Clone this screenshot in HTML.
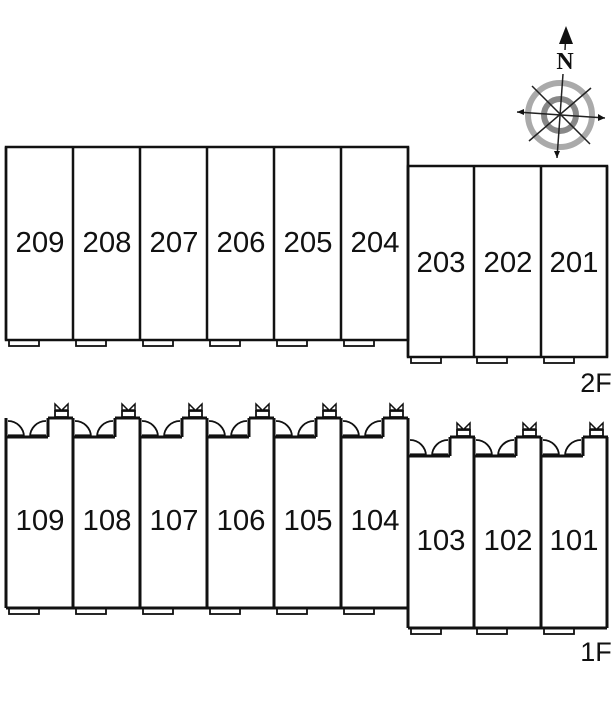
<!DOCTYPE html>
<html><head><meta charset="utf-8"><style>
body{margin:0;background:#fff;width:611px;height:720px;overflow:hidden}
svg{display:block}
text{font-family:"Liberation Sans",sans-serif;font-size:29px;fill:#111;text-anchor:middle}
</style></head><body>
<svg id="s" width="611" height="720" viewBox="0 0 611 720">
<g id="g" stroke="#111" fill="none" stroke-width="2.5"></g>
<text x="40" y="252" textLength="49" lengthAdjust="spacingAndGlyphs">209</text><text x="107" y="252" textLength="49" lengthAdjust="spacingAndGlyphs">208</text><text x="174" y="252" textLength="49" lengthAdjust="spacingAndGlyphs">207</text>
<text x="241" y="252" textLength="49" lengthAdjust="spacingAndGlyphs">206</text><text x="308" y="252" textLength="49" lengthAdjust="spacingAndGlyphs">205</text><text x="375" y="252" textLength="49" lengthAdjust="spacingAndGlyphs">204</text>
<text x="441" y="272" textLength="49" lengthAdjust="spacingAndGlyphs">203</text><text x="508" y="272" textLength="49" lengthAdjust="spacingAndGlyphs">202</text><text x="574" y="272" textLength="49" lengthAdjust="spacingAndGlyphs">201</text>
<text x="40" y="530" textLength="49" lengthAdjust="spacingAndGlyphs">109</text><text x="107" y="530" textLength="49" lengthAdjust="spacingAndGlyphs">108</text><text x="174" y="530" textLength="49" lengthAdjust="spacingAndGlyphs">107</text>
<text x="241" y="530" textLength="49" lengthAdjust="spacingAndGlyphs">106</text><text x="308" y="530" textLength="49" lengthAdjust="spacingAndGlyphs">105</text><text x="375" y="530" textLength="49" lengthAdjust="spacingAndGlyphs">104</text>
<text x="441" y="550" textLength="49" lengthAdjust="spacingAndGlyphs">103</text><text x="508" y="550" textLength="49" lengthAdjust="spacingAndGlyphs">102</text><text x="574" y="550" textLength="49" lengthAdjust="spacingAndGlyphs">101</text>
<text x="596" y="392" style="font-size:27px">2F</text><text x="596" y="661" style="font-size:27px">1F</text>
<text x="565" y="69" style="font-family:'Liberation Serif',serif;font-weight:bold;font-size:24px">N</text>
<g fill="none">
<circle cx="560" cy="115" r="32" stroke="#aaa" stroke-width="6"/>
<circle cx="560" cy="115" r="16" stroke="#888" stroke-width="6"/>
</g>
<g stroke="#222" stroke-width="1.5">
<line x1="517" y1="112" x2="605" y2="118"/><line x1="563" y1="74" x2="557" y2="158"/>
<line x1="532" y1="86" x2="590" y2="144"/><line x1="591" y1="88" x2="529" y2="141"/>
<line x1="566" y1="32" x2="565" y2="50"/>
</g>
<polygon points="566,26 559,44 573,44" fill="#111"/>
<polygon points="605,118 598,114 598,121" fill="#111"/>
<polygon points="517,112 524,109 524,115" fill="#111"/>
<polygon points="557,158 554,151 560,151" fill="#111"/>
</svg>
<script>
var g=document.getElementById('g'),h='';
function L(a,b,c,d,w){h+='<line x1="'+a+'" y1="'+b+'" x2="'+c+'" y2="'+d+'"'+(w?' stroke-width="'+w+'"':'')+'/>';}
function R(x,y,w,hh){h+='<rect x="'+x+'" y="'+y+'" width="'+w+'" height="'+hh+'" stroke-width="1.8"/>';}
var L1=[6,73,140,207,274,341,408],R1=[408,474,541,607];
h+='<rect x="6" y="147" width="402" height="193"/>';
L1.forEach(function(x){L(x,147,x,340);});
h+='<rect x="408" y="166" width="199" height="191"/>';
R1.forEach(function(x){L(x,166,x,357);});
for(var i=0;i<6;i++)R(L1[i]+3,340,30,6);
for(var i=0;i<3;i++)R(R1[i]+3,357,30,6);
function unit(x0,T,B){
 L(x0+42,T,x0+67,T,3);L(x0+42,T,x0+42,T+19,3);L(x0,T+19,x0+42,T+19,3);
 L(x0,T,x0,B,3);
 h+='<path d="M'+(x0+2)+' '+(T+3)+' A16 16 0 0 1 '+(x0+18)+' '+(T+19)+'" stroke-width="1.8"/>';
 h+='<path d="M'+(x0+24)+' '+(T+19)+' A16 16 0 0 1 '+(x0+40)+' '+(T+3)+'" stroke-width="1.8"/>';
 L(x0+2,T+17,x0+18,T+17,1.2);L(x0+24,T+17,x0+40,T+17,1.2);
 R(x0+49,T-7,13,6);
 h+='<path d="M'+(x0+49)+' '+(T-14)+' L'+(x0+55)+' '+(T-8)+' L'+(x0+49)+' '+(T-8)+'Z M'+(x0+62)+' '+(T-14)+' L'+(x0+56)+' '+(T-8)+' L'+(x0+62)+' '+(T-8)+'Z" stroke-width="1.5"/>';
 R(x0+3,B,30,6);
}
for(var i=0;i<6;i++)unit(L1[i],418,608);
L(6,608,408,608,3);L(408,418,408,437,3);
for(var i=0;i<3;i++)unit(R1[i],437,628);
L(607,437,607,628,3);L(408,628,607,628,3);
g.innerHTML=h;
</script>
</body></html>
